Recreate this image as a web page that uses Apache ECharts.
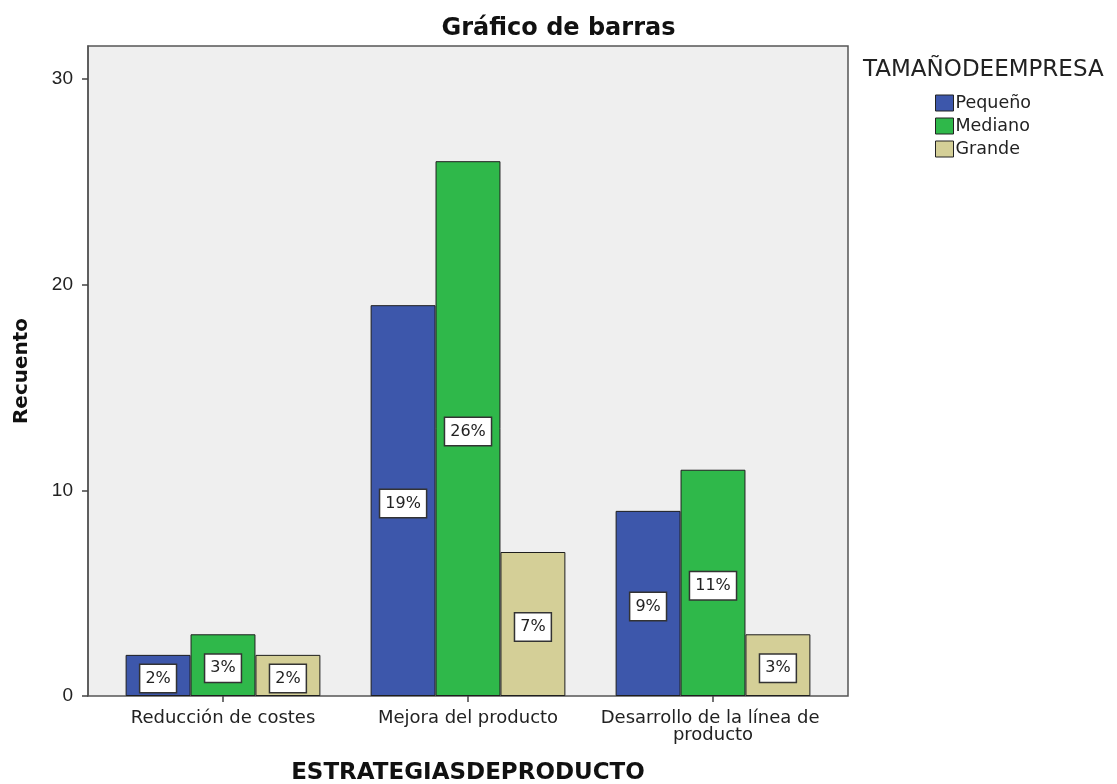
<!DOCTYPE html>
<html>
<head>
<meta charset="utf-8">
<script src="https://cdn.jsdelivr.net/npm/echarts@6/dist/echarts.min.js"></script>
<style>
  html, body { margin: 0; padding: 0; background: #fff; }
  #chart { width: 1117px; height: 784px; }
</style>
</head>
<body>
<div id="chart"></div>
<script>
const categories = ['Reducción de costes', 'Mejora del producto', 'Desarrollo de la línea de producto']
const seriesNames = ['Pequeño', 'Mediano', 'Grande']
const pequeno = [2, 19, 9]
const mediano = [3, 26, 11]
const grande = [2, 7, 3]
const pequenoPct = ['2%', '19%', '9%']
const medianoPct = ['3%', '26%', '11%']
const grandePct = ['2%', '7%', '3%']
const yTicks = [0, 10, 20, 30]

const colors = ['#3d57ab', '#2fb84a', '#d4cf97']
const font = '"DejaVu Sans", Verdana, sans-serif'
const numFont = '"Liberation Sans", Arial, sans-serif'

const chart = echarts.init(document.getElementById('chart'), null, { renderer: 'canvas' })

const makeSeries = (name, values, pct, i) => ({
  name,
  type: 'bar',
  xAxisIndex: 1,
  yAxisIndex: 1,
  data: values.map((v, j) => ({ value: v, pct: pct[j] })),
  barGap: '0%',
  barCategoryGap: '20.5%',
  itemStyle: { color: colors[i], borderColor: '#1e1e1e', borderWidth: 1 },
  label: {
    show: true,
    position: 'inside',
    offset: [0, 3],
    formatter: p => p.data.pct,
    color: '#222',
    fontFamily: font,
    fontSize: 16,
    backgroundColor: '#fff',
    borderColor: '#333',
    borderWidth: 1.5,
    padding: [6, 5, 5, 5]
  },
  emphasis: { disabled: true }
})

chart.setOption({
  animation: false,
  backgroundColor: '#fff',
  title: [
    {
      text: 'Gráfico de barras',
      left: 'center',
      top: 12,
      textStyle: { fontFamily: font, fontSize: 24, fontWeight: 'bold', color: '#111' }
    },
    {
      text: 'TAMAÑODEEMPRESA',
      left: 858,
      top: 54,
      textStyle: { fontFamily: font, fontSize: 23, fontWeight: 'normal', color: '#222' }
    }
  ],
  legend: {
    orient: 'vertical',
    left: 935,
    top: 94,
    padding: 0,
    itemWidth: 18,
    itemHeight: 16,
    itemGap: 5,
    icon: 'rect',
    data: seriesNames,
    itemStyle: { borderColor: '#222', borderWidth: 1 },
    textStyle: { fontFamily: font, fontSize: 17.5, color: '#222', padding: [0, 0, 0, -3] }
  },
  grid: [
    {
      show: true,
      left: 88,
      right: 269,
      top: 46,
      bottom: 88,
      outerBoundsMode: 'none',
      backgroundColor: '#efefef',
      borderColor: '#555',
      borderWidth: 1.5
    },
    {
      left: 100.5,
      right: 281.5,
      top: 46,
      bottom: 88,
      outerBoundsMode: 'none'
    }
  ],
  xAxis: [
    {
      gridIndex: 0,
      type: 'category',
      data: categories,
      show: true,
      axisLine: { show: false },
      axisTick: { show: false },
      axisLabel: { show: false },
      name: 'ESTRATEGIASDEPRODUCTO',
      nameLocation: 'middle',
      nameGap: 66,
      nameTextStyle: { fontFamily: font, fontSize: 23, fontWeight: 'bold', color: '#111' }
    },
    {
      gridIndex: 1,
      type: 'category',
      data: categories,
      axisLine: { show: false },
      axisTick: { show: true, alignWithLabel: true, length: 6, inside: false, lineStyle: { color: '#444', width: 1.5 } },
      axisLabel: {
        fontFamily: font,
        fontSize: 18,
        color: '#222',
        margin: 14,
        width: 245,
        overflow: 'break',
        lineHeight: 17,
        interval: 0
      }
    }
  ],
  yAxis: [
    {
      gridIndex: 0,
      type: 'value',
      min: 0,
      max: 31.6,
      axisLine: { show: true, lineStyle: { color: '#555', width: 1.5 } },
      axisTick: { show: true, length: 6, lineStyle: { color: '#444', width: 1.5 }, customValues: yTicks },
      axisLabel: { fontFamily: numFont, fontSize: 19, color: '#222', margin: 15, customValues: yTicks },
      splitLine: { show: false },
      name: 'Recuento',
      nameLocation: 'middle',
      nameGap: 56,
      nameRotate: 90,
      nameTextStyle: { fontFamily: font, fontSize: 20, fontWeight: 'bold', color: '#111' }
    },
    {
      gridIndex: 1,
      type: 'value',
      min: 0,
      max: 31.6,
      show: false,
      splitLine: { show: false }
    }
  ],
  series: [
    makeSeries(seriesNames[0], pequeno, pequenoPct, 0),
    makeSeries(seriesNames[1], mediano, medianoPct, 1),
    makeSeries(seriesNames[2], grande, grandePct, 2)
  ]
})
</script>
</body>
</html>
